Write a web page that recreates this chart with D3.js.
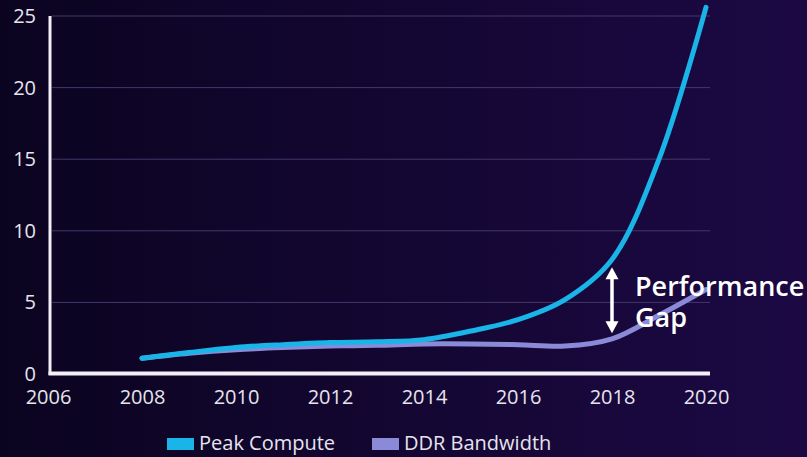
<!DOCTYPE html>
<html>
<head>
<meta charset="utf-8">
<script src="https://cdn.jsdelivr.net/npm/d3@7/dist/d3.min.js"></script>
<style>
  html, body { margin: 0; padding: 0; background: #0d0522; }
  svg { display: block; }
  text { font-family: "Open Sans", "Noto Sans", sans-serif; }
</style>
</head>
<body>
<svg id="chart" width="807" height="457"></svg>
<script>
// Yearly values for each series
const years = [2008, 2009, 2010, 2011, 2012, 2013, 2014, 2015, 2016, 2017, 2018, 2019, 2020];
const peakCompute = [1.1, 1.5, 1.85, 2.05, 2.2, 2.25, 2.4, 3.0, 3.8, 5.2, 8.0, 15.0, 25.6];
const ddrBandwidth = [1.1, 1.45, 1.7, 1.85, 1.95, 2.0, 2.1, 2.1, 2.05, 1.95, 2.45, 4.1, 5.9];

const xTicks = [2006, 2008, 2010, 2012, 2014, 2016, 2018, 2020];
const yTicks = [0, 5, 10, 15, 20, 25];

const seriesNames = ["Peak Compute", "DDR Bandwidth"];
const seriesColors = ["#19b4e8", "#8a8ad8"];

// Gap annotation: year and value span of the double arrow
const gapYear = 2018;
const gapSpan = [7.45, 2.85];
const gapLabel = ["Performance", "Gap"];

const svg = d3.select("#chart");
const W = 807, H = 457;

// Background gradient
const defs = svg.append("defs");
const bg = defs.append("linearGradient").attr("id", "bg").attr("x1", "0").attr("x2", "1").attr("y1", "0").attr("y2", "0");
bg.append("stop").attr("offset", "0%").attr("stop-color", "#0b0420");
bg.append("stop").attr("offset", "100%").attr("stop-color", "#1c0944");
svg.append("rect").attr("width", W).attr("height", H).attr("fill", "url(#bg)");

const x = d3.scaleLinear().domain([2006, 2020]).range([48, 706]);
const y = d3.scaleLinear().domain([0, 25]).range([374, 16]);
const gridRight = 710;

// Horizontal gridlines
svg.append("g")
  .selectAll("line")
  .data(yTicks.filter(d => d > 0))
  .join("line")
  .attr("x1", 52).attr("x2", gridRight)
  .attr("y1", d => y(d)).attr("y2", d => y(d))
  .attr("stroke", "#44386a").attr("stroke-width", 1);

// Y axis labels
const yAxis = d3.axisLeft(y).tickValues(yTicks).tickSize(0).tickPadding(0).tickFormat(d3.format("d"));
svg.append("g").attr("transform", "translate(36,0)").call(yAxis)
  .call(g => g.select(".domain").remove())
  .selectAll("text")
  .attr("fill", "#e6e4ee").attr("font-size", 20).attr("font-family", "Open Sans, sans-serif");

// X axis labels
const xAxis = d3.axisBottom(x).tickValues(xTicks).tickSize(0).tickPadding(0).tickFormat(d3.format("d"));
svg.append("g").attr("transform", "translate(0,390)").call(xAxis)
  .call(g => g.select(".domain").remove())
  .selectAll("text")
  .attr("fill", "#e6e4ee").attr("font-size", 20).attr("font-family", "Open Sans, sans-serif");

// Series lines
const line = d3.line().x((d, i) => x(years[i])).y(d => y(d)).curve(d3.curveCatmullRom.alpha(0.5));
const seriesData = [peakCompute, ddrBandwidth];
[1, 0].forEach(k => {
  svg.append("path")
    .datum(seriesData[k])
    .attr("d", line)
    .attr("fill", "none")
    .attr("stroke", seriesColors[k])
    .attr("stroke-width", 5)
    .attr("stroke-linecap", "round");
});

// Axis lines
svg.append("line").attr("x1", 50).attr("x2", 50).attr("y1", y(25)).attr("y2", y(0) + 1)
  .attr("stroke", "#f2f0f6").attr("stroke-width", 3);
svg.append("line").attr("x1", 48.5).attr("x2", gridRight).attr("y1", y(0) - 0.5).attr("y2", y(0) - 0.5)
  .attr("stroke", "#f2f0f6").attr("stroke-width", 4);

// Double-headed arrow marking the gap
const ax = x(gapYear), ay1 = y(gapSpan[0]), ay2 = y(gapSpan[1]);
const head = 12, hw = 6.5;
const arrow = svg.append("g").attr("fill", "#ffffff");
arrow.append("rect").attr("x", ax - 1.75).attr("y", ay1 + head - 1).attr("width", 3.5).attr("height", ay2 - ay1 - 2 * head + 2);
arrow.append("path").attr("d", `M${ax},${ay1} L${ax + hw},${ay1 + head} L${ax - hw},${ay1 + head} Z`);
arrow.append("path").attr("d", `M${ax},${ay2} L${ax + hw},${ay2 - head} L${ax - hw},${ay2 - head} Z`);

svg.append("g").selectAll("text")
  .data(gapLabel)
  .join("text")
  .attr("x", ax + 23)
  .attr("y", (d, i) => 296 + i * 31)
  .attr("fill", "#ffffff")
  .attr("font-size", 27)
  .attr("font-weight", 600)
  .text(d => d);

// Legend
const legendX = [167, 372];
const legend = svg.append("g");
seriesNames.forEach((name, i) => {
  legend.append("rect").attr("x", legendX[i]).attr("y", 438).attr("width", 27).attr("height", 12)
    .attr("fill", seriesColors[i]);
  legend.append("text").attr("x", legendX[i] + 32).attr("y", 450)
    .attr("fill", "#e6e4ee").attr("font-size", 20).text(name);
});
</script>
</body>
</html>
